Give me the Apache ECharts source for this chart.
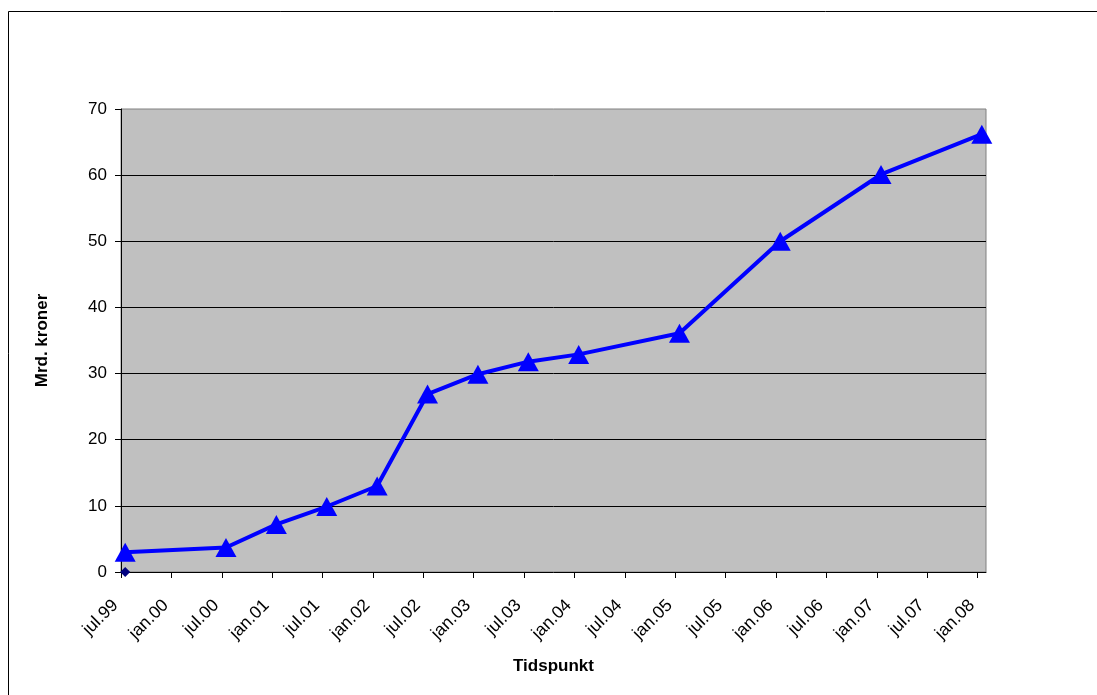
<!DOCTYPE html>
<html>
<head>
<meta charset="utf-8">
<script src="https://cdn.jsdelivr.net/npm/echarts@6/dist/echarts.min.js"></script>
<style>
html,body{margin:0;padding:0;background:#fff;}
#chart{width:1097px;height:695px;}
</style>
</head>
<body>
<div id="chart"></div>
<script>
// Axis starts at July 1999; one unit = one month
var startYear = 1999, startMonth = 7;
var tickLabels = ['jul.99','jan.00','jul.00','jan.01','jul.01','jan.02','jul.02','jan.03','jul.03','jan.04','jul.04','jan.05','jul.05','jan.06','jul.06','jan.07','jul.07','jan.08'];
var dates = ['1999-07','2000-07','2001-01','2001-07','2002-01','2002-07','2003-01','2003-07','2004-01','2005-01','2006-01','2007-01','2008-01'];
var values = [3.0, 3.7, 7.2, 9.9, 13.0, 26.9, 29.9, 31.8, 32.9, 36.1, 50.0, 60.1, 66.2];
var secondDates = ['1999-07'];
var secondValues = [0];

function monthPos(d) {
  var p = d.split('-');
  var idx = (parseInt(p[0], 10) - startYear) * 12 + (parseInt(p[1], 10) - startMonth);
  return idx + 0.5; // centred in its month
}
var tickValues = tickLabels.map(function (l, i) { return i * 6; });
var axisMax = tickValues[tickValues.length - 1] + 1;

var mainData = dates.map(function (d, i) { return [monthPos(d), values[i]]; });
var secondData = secondDates.map(function (d, i) { return [monthPos(d), secondValues[i]]; });

var font = "'Liberation Sans', Arial, sans-serif";
var chart = echarts.init(document.getElementById('chart'));
chart.setOption({
  animation: false,
  backgroundColor: '#ffffff',
  graphic: [{
    type: 'rect',
    shape: { x: 8.5, y: 11.5, width: 1300, height: 1000 },
    style: { fill: 'none', stroke: '#000000', lineWidth: 1 },
    silent: true
  }],
  grid: {
    left: 121, right: 111, top: 109, bottom: 123,
    show: true, backgroundColor: '#C0C0C0', borderColor: '#808080', borderWidth: 1
  },
  xAxis: {
    type: 'value', min: 0, max: axisMax, interval: 6,
    name: 'Tidspunkt', nameLocation: 'middle', nameGap: 86,
    nameTextStyle: { fontFamily: font, fontSize: 17, fontWeight: 'bold', color: '#000' },
    axisLine: { show: true, lineStyle: { color: '#000', width: 1 } },
    axisTick: { show: true, length: 6, lineStyle: { color: '#000' }, customValues: tickValues },
    axisLabel: {
      rotate: 45, margin: 25, padding: [0, 8, 0, 0], fontFamily: font, fontSize: 17.5, color: '#000',
      customValues: tickValues,
      formatter: function (v) { var i = Math.round(v / 6); return tickLabels[i] || ''; }
    },
    splitLine: { show: false }
  },
  yAxis: {
    type: 'value', min: 0, max: 70, interval: 10,
    name: 'Mrd. kroner', nameLocation: 'middle', nameGap: 70,
    nameTextStyle: { fontFamily: font, fontSize: 17, fontWeight: 'bold', color: '#000' },
    axisLine: { show: true, lineStyle: { color: '#000', width: 1 } },
    axisTick: { show: true, length: 6, lineStyle: { color: '#000' } },
    axisLabel: { margin: 14, fontFamily: font, fontSize: 17, color: '#000' },
    splitLine: { show: true, showMinLine: false, showMaxLine: false, lineStyle: { color: '#000', width: 1 } }
  },
  series: [{
    type: 'line', data: mainData,
    lineStyle: { color: '#0000FF', width: 4 },
    itemStyle: { color: '#0000FF' },
    symbol: 'triangle', symbolSize: [21, 19], showAllSymbol: true,
    clip: false, z: 3
  }, {
    type: 'scatter', data: secondData,
    itemStyle: { color: '#000080', opacity: 1 },
    symbol: 'diamond', symbolSize: [10, 10],
    clip: false, z: 10
  }]
});
</script>
</body>
</html>
